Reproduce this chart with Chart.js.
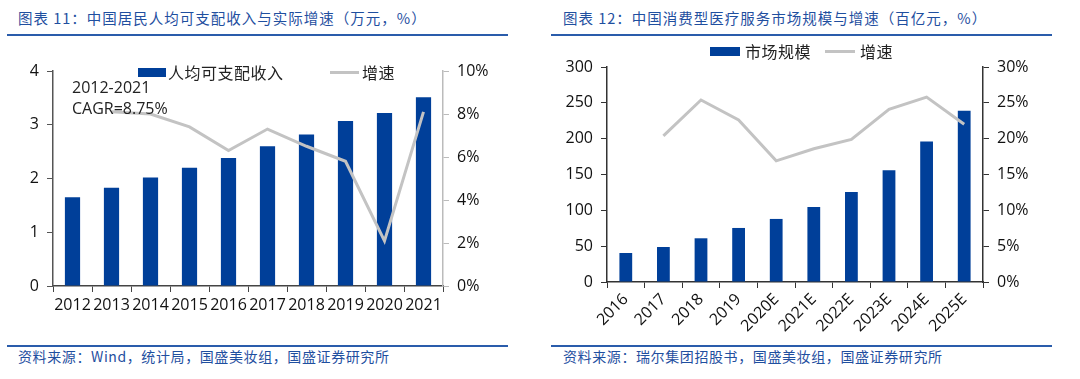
<!DOCTYPE html>
<html><head><meta charset="utf-8">
<script src="https://cdn.jsdelivr.net/npm/chart.js@4/dist/chart.umd.min.js"></script>
<style>
body{margin:0;background:#fff;width:1080px;height:379px;position:relative;overflow:hidden;font-family:"Noto Sans CJK SC","Open Sans",sans-serif;}
.t{position:absolute;white-space:nowrap;}
.title{color:#1f4f9f;font-size:14.5px;line-height:18px;letter-spacing:1px;}
.foot{color:#1f4f9f;font-size:14px;line-height:18px;letter-spacing:0.6px;}
.hl{position:absolute;height:2px;background:#2a5cab;}
.leg{font-size:16px;color:#222;line-height:18px;letter-spacing:0.5px;}
.box{position:absolute;background:#003f99;}
.ln{position:absolute;height:3px;background:#c3c3c3;}
canvas{position:absolute;}
.ann{font-family:"Open Sans",sans-serif;font-size:16px;color:#222;line-height:21px;}
</style></head>
<body>
<div class="t title" style="left:18px;top:9px;">图表 11：中国居民人均可支配收入与实际增速（万元，%）</div>
<div class="hl" style="left:7px;top:34px;width:501px;"></div>
<div class="t title" style="left:563px;top:9px;">图表 12：中国消费型医疗服务市场规模与增速（百亿元，%）</div>
<div class="hl" style="left:551px;top:34px;width:501px;"></div>

<div style="position:absolute;left:0;top:40px;width:540px;height:300px;"><canvas id="c1" width="540" height="300"></canvas></div>
<div style="position:absolute;left:540px;top:40px;width:540px;height:300px;"><canvas id="c2" width="540" height="300"></canvas></div>

<div class="box" style="left:138px;top:68px;width:28px;height:9px;"></div>
<div class="t leg" style="left:168px;top:63px;">人均可支配收入</div>
<div class="ln" style="left:330px;top:71px;width:29px;"></div>
<div class="t leg" style="left:362px;top:63px;">增速</div>
<div class="t ann" style="left:72px;top:77px;">2012-2021<br>CAGR=8.75%</div>

<div class="box" style="left:710px;top:47px;width:30px;height:9px;"></div>
<div class="t leg" style="left:745px;top:42px;">市场规模</div>
<div class="ln" style="left:825px;top:50px;width:30px;"></div>
<div class="t leg" style="left:860px;top:42px;">增速</div>

<div class="hl" style="left:7px;top:345px;width:501px;"></div>
<div class="t foot" style="left:18px;top:347px;">资料来源：Wind，统计局，国盛美妆组，国盛证券研究所</div>
<div class="hl" style="left:551px;top:345px;width:501px;"></div>
<div class="t foot" style="left:563px;top:347px;">资料来源：瑞尔集团招股书，国盛美妆组，国盛证券研究所</div>

<script>
const years1 = ['2012','2013','2014','2015','2016','2017','2018','2019','2020','2021'];
const income = [1.65,1.83,2.02,2.20,2.38,2.60,2.82,3.07,3.22,3.51];
const incomeGrowth = [null,8.1,8.0,7.4,6.3,7.3,6.5,5.8,2.1,8.1];
const leftTicks1 = [0,1,2,3,4];
const rightTicks1 = [0,2,4,6,8,10];

const years2 = ['2016','2017','2018','2019','2020E','2021E','2022E','2023E','2024E','2025E'];
const market = [40.5,48.8,61,75.4,88,104.7,125.6,155.9,195.9,239];
const marketGrowth = [null,20.4,25.4,22.6,16.9,18.6,19.9,24.1,25.8,22.0];
const leftTicks2 = [0,50,100,150,200,250,300];
const rightTicks2 = [0,5,10,15,20,25,30];

const FONT = {family:'"Open Sans", sans-serif', size:16};
const BAR = '#003f99', LINE = '#c3c3c3';

function makeChart(id, labels, bars, growth, lt, rt, cfg){
  return new Chart(document.getElementById(id), {
    data:{labels, datasets:[
      {type:'line', data:growth, yAxisID:'y1', borderColor:LINE, borderWidth:3, pointRadius:0, tension:0, order:0, spanGaps:false},
      {type:'bar', data:bars, yAxisID:'y', backgroundColor:BAR, categoryPercentage:1, barPercentage:cfg.bp, order:1}
    ]},
    options:{
      responsive:false, animation:false, devicePixelRatio:1,
      layout:{padding:{top:cfg.padTop,left:0,right:0,bottom:0}},
      plugins:{legend:{display:false}, tooltip:{enabled:false}},
      scales:{
        x:{offset:true,
           grid:{display:true,drawOnChartArea:false,drawTicks:true,tickLength:6,tickColor:cfg.xColor,offset:true},
           border:{color:cfg.xColor,width:1.5},
           ticks:{color:'#111',font:{family:FONT.family,size:cfg.xSize},autoSkip:false,minRotation:cfg.rot,maxRotation:cfg.rot,padding:cfg.xPad},
           afterFit:s=>{s.height=cfg.xH;}},
        y:{position:'left',min:lt[0],max:lt[lt.length-1],
           afterBuildTicks:s=>{s.ticks=lt.map(v=>({value:v}));},
           grid:{display:true,drawOnChartArea:false,drawTicks:true,tickLength:6,tickColor:cfg.yColor},
           border:{color:cfg.yColor,width:1.5},
           ticks:{color:'#111',font:FONT,padding:8},
           afterFit:s=>{s.width=cfg.yW;}},
        y1:{position:'right',min:rt[0],max:rt[rt.length-1],
           afterBuildTicks:s=>{s.ticks=rt.map(v=>({value:v}));},
           grid:{display:true,drawOnChartArea:false,drawTicks:true,tickLength:6,tickColor:cfg.y1Color},
           border:{color:cfg.y1Color,width:1.5},
           ticks:{color:'#111',font:FONT,padding:8,callback:v=>v+'%'},
           afterFit:s=>{s.width=97;}}
      }
    }
  });
}
makeChart('c1', years1, income, incomeGrowth, leftTicks1, rightTicks1,
  {bp:0.39, padTop:31, xH:54, yW:53, rot:0, xSize:16, xPad:4, xColor:'#444', yColor:'#555', y1Color:'#bbb'});
makeChart('c2', years2, market, marketGrowth, leftTicks2, rightTicks2,
  {bp:0.34, padTop:27, xH:58, yW:67, rot:45, xSize:16, xPad:2, xColor:'#333', yColor:'#333', y1Color:'#333'});
</script>
</body></html>
